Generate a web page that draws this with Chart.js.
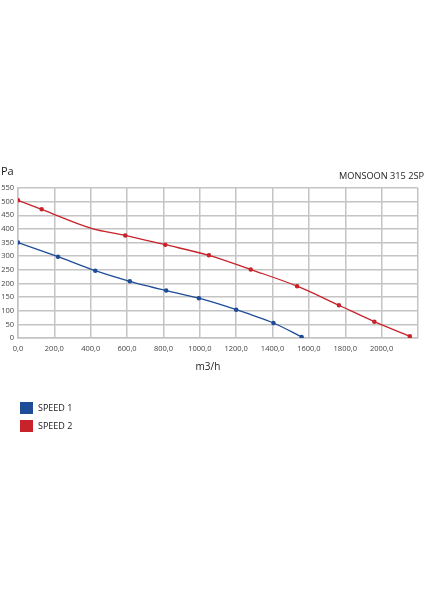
<!DOCTYPE html>
<html>
<head>
<meta charset="utf-8">
<script src="https://cdn.jsdelivr.net/npm/chart.js@4/dist/chart.umd.min.js"></script>
<style>
  html, body { margin: 0; padding: 0; background: #fff; }
  canvas { display: block; }
</style>
</head>
<body>
<canvas id="fanChart" width="424" height="600"></canvas>
<script>
// fan curve, airflow (m3/h) vs static pressure (Pa)
var speed1Flow = [0, 220, 425, 615, 815, 995, 1200, 1405, 1560]
var speed1Pressure = [350, 298, 247, 208, 174, 146, 104, 55, 4]
var speed2Flow = [0, 130, 400, 590, 810, 1050, 1280, 1535, 1765, 1960, 2155]
var speed2Pressure = [505, 472, 403, 376, 342, 303, 251, 190, 120, 60, 6]
var speed2Marker = [1.6, 1.6, 0, 1.6, 1.6, 1.6, 1.6, 1.6, 1.6, 1.6, 1.6]
var seriesNames = ['SPEED 1', 'SPEED 2']
var title = 'MONSOON 315 2SP'
var xTitle = 'm3/h'
var yTitle = 'Pa'

var blue = '#1e4c96'
var red = '#c8222b'
var font = '"Open Sans", sans-serif'

function toPoints(xs, ys) {
    var pts = []
    for (var i = 0; i < xs.length; i++) pts.push({x: xs[i], y: ys[i]})
    return pts
}

// texts and legend drawn around the chart area
var extras = {
    id: 'extras',
    afterDraw: function(chart) {
        var ctx = chart.ctx
        var a = chart.chartArea
        ctx.save()
        ctx.fillStyle = '#222'
        ctx.textBaseline = 'middle'
        ctx.font = '11px ' + font
        ctx.textAlign = 'left'
        ctx.fillText(yTitle, 1, a.top - 16)
        ctx.font = '9.2px ' + font
        ctx.textAlign = 'right'
        ctx.fillText(title, 424, a.top - 12)
        ctx.font = '10px ' + font
        ctx.textAlign = 'center'
        ctx.fillText(xTitle, (a.left + a.right) / 2 - 10, a.bottom + 29)

        ctx.font = '9px ' + font
        ctx.textAlign = 'left'
        chart.data.datasets.forEach(function(ds, i) {
            var y = a.bottom + 64 + i * 18
            ctx.fillStyle = ds.borderColor
            ctx.fillRect(20, y, 13, 12)
            ctx.fillStyle = '#222'
            ctx.fillText(ds.label, 38, y + 6.5)
        })
        ctx.restore()
    }
}

var chart = new Chart(document.getElementById('fanChart').getContext('2d'), {
    type: 'scatter',
    data: {
        datasets: [{
            label: seriesNames[0],
            data: toPoints(speed1Flow, speed1Pressure),
            showLine: true,
            borderColor: blue,
            backgroundColor: blue,
            borderWidth: 1.3,
            pointRadius: 1.6,
            pointHoverRadius: 1.6,
            tension: 0.3
        }, {
            label: seriesNames[1],
            data: toPoints(speed2Flow, speed2Pressure),
            showLine: true,
            borderColor: red,
            backgroundColor: red,
            borderWidth: 1.3,
            pointRadius: speed2Marker,
            pointHoverRadius: speed2Marker,
            tension: 0.35
        }]
    },
    options: {
        responsive: false,
        animation: false,
        layout: { padding: { top: 188, right: 4, bottom: 242, left: 0 } },
        plugins: {
            legend: { display: false },
            tooltip: { enabled: false }
        },
        scales: {
            x: {
                type: 'linear',
                min: 0,
                max: 2200,
                afterFit: function(s) { s.height = 20 },
                ticks: {
                    stepSize: 200,
                    padding: 6,
                    maxRotation: 0,
                    color: '#444',
                    font: { size: 7.5, family: font },
                    callback: function(v) { return v >= 2200 ? '' : v.toFixed(1).replace('.', ',') }
                },
                grid: { color: '#c4c4c4', lineWidth: 1.5, drawTicks: false },
                border: { color: '#c4c4c4', width: 1.5 }
            },
            y: {
                min: 0,
                max: 550,
                afterFit: function(s) { s.width = 18 },
                ticks: {
                    stepSize: 50,
                    padding: 4,
                    color: '#444',
                    font: { size: 7.5, family: font }
                },
                grid: { color: '#c4c4c4', lineWidth: 1.5, drawTicks: false },
                border: { color: '#c4c4c4', width: 1.5 }
            }
        }
    },
    plugins: [extras]
})
</script>
</body>
</html>
